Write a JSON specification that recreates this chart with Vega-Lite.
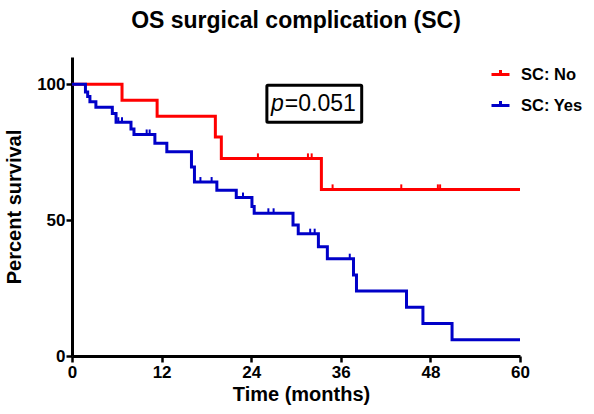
{
  "$schema": "https://vega.github.io/schema/vega-lite/v6.json",
  "width": 448,
  "height": 299,
  "autosize": "none",
  "padding": {"left": 72, "top": 57, "right": 74, "bottom": 58},
  "background": "white",
  "config": {"view": {"stroke": null}, "font": "Liberation Sans"},
  "title": {"text": "OS surgical complication (SC)", "fontSize": 23, "fontWeight": "bold", "font": "Liberation Sans", "color": "black", "anchor": "middle", "offset": 24},
  "datasets": {
    "km": [
      {"group": "SC: No", "t": 0, "s": 100},
      {"group": "SC: No", "t": 6.7, "s": 94.1},
      {"group": "SC: No", "t": 11.4, "s": 88.2},
      {"group": "SC: No", "t": 19.2, "s": 80.6},
      {"group": "SC: No", "t": 20.0, "s": 72.7},
      {"group": "SC: No", "t": 33.4, "s": 61.3},
      {"group": "SC: No", "t": 60, "s": 61.3},
      {"group": "SC: Yes", "t": 0, "s": 100},
      {"group": "SC: Yes", "t": 1.8, "s": 97.1},
      {"group": "SC: Yes", "t": 2.1, "s": 95.5},
      {"group": "SC: Yes", "t": 2.4, "s": 93.5},
      {"group": "SC: Yes", "t": 3.2, "s": 91.5},
      {"group": "SC: Yes", "t": 5.4, "s": 89.2},
      {"group": "SC: Yes", "t": 5.9, "s": 86.0},
      {"group": "SC: Yes", "t": 7.9, "s": 83.5},
      {"group": "SC: Yes", "t": 8.3, "s": 81.5},
      {"group": "SC: Yes", "t": 11.1, "s": 78.3},
      {"group": "SC: Yes", "t": 12.7, "s": 75.1},
      {"group": "SC: Yes", "t": 16.0, "s": 69.5},
      {"group": "SC: Yes", "t": 16.4, "s": 64.0},
      {"group": "SC: Yes", "t": 19.4, "s": 61.0},
      {"group": "SC: Yes", "t": 22.0, "s": 58.3},
      {"group": "SC: Yes", "t": 24.1, "s": 55.0},
      {"group": "SC: Yes", "t": 24.4, "s": 52.5},
      {"group": "SC: Yes", "t": 29.6, "s": 48.2},
      {"group": "SC: Yes", "t": 30.3, "s": 45.0},
      {"group": "SC: Yes", "t": 33.0, "s": 40.2},
      {"group": "SC: Yes", "t": 34.2, "s": 35.8},
      {"group": "SC: Yes", "t": 37.7, "s": 29.8},
      {"group": "SC: Yes", "t": 38.1, "s": 23.9},
      {"group": "SC: Yes", "t": 44.8, "s": 17.9},
      {"group": "SC: Yes", "t": 47.0, "s": 12.0},
      {"group": "SC: Yes", "t": 50.9, "s": 6.0},
      {"group": "SC: Yes", "t": 60, "s": 6.0}
    ],
    "censor": [
      {"group": "SC: No", "t": 24.9, "s": 72.7},
      {"group": "SC: No", "t": 31.6, "s": 72.7},
      {"group": "SC: No", "t": 32.1, "s": 72.7},
      {"group": "SC: No", "t": 34.9, "s": 61.3},
      {"group": "SC: No", "t": 44.1, "s": 61.3},
      {"group": "SC: No", "t": 49.0, "s": 61.3},
      {"group": "SC: No", "t": 49.3, "s": 61.3},
      {"group": "SC: Yes", "t": 6.2, "s": 86.0},
      {"group": "SC: Yes", "t": 6.7, "s": 86.0},
      {"group": "SC: Yes", "t": 10.0, "s": 81.5},
      {"group": "SC: Yes", "t": 10.4, "s": 81.5},
      {"group": "SC: Yes", "t": 17.2, "s": 64.0},
      {"group": "SC: Yes", "t": 18.7, "s": 64.0},
      {"group": "SC: Yes", "t": 22.9, "s": 58.3},
      {"group": "SC: Yes", "t": 26.3, "s": 52.5},
      {"group": "SC: Yes", "t": 27.0, "s": 52.5},
      {"group": "SC: Yes", "t": 31.9, "s": 45.0},
      {"group": "SC: Yes", "t": 32.5, "s": 45.0},
      {"group": "SC: Yes", "t": 37.2, "s": 35.8}
    ],
    "box": [{"x1": 26.1, "x2": 38.8, "y1": 86.0, "y2": 99.6}],
    "ptext": [{"x": 28.5, "y": 92.8, "p": "p", "v": "=0.051"}]
  },
  "layer": [
    {
      "data": {"name": "km"},
      "mark": {"type": "line", "interpolate": "step-after", "strokeWidth": 3, "clip": false},
      "encoding": {
        "x": {"field": "t", "type": "quantitative",
          "scale": {"domain": [0, 60], "nice": false, "zero": false},
          "axis": {"values": [0, 12, 24, 36, 48, 60], "title": "Time (months)", "grid": false, "labelFlush": false,
            "domainColor": "black", "domainWidth": 3, "tickColor": "black", "tickWidth": 2.5, "tickSize": 6,
            "labelFont": "Liberation Sans", "labelFontSize": 17, "labelFontWeight": "bold", "labelColor": "black", "labelPadding": 2,
            "titleFont": "Liberation Sans", "titleFontSize": 20, "titleFontWeight": "bold", "titleColor": "black", "titlePadding": 4, "titleX": 229}},
        "y": {"field": "s", "type": "quantitative",
          "scale": {"domain": [0, 110], "nice": false},
          "axis": {"values": [0, 50, 100], "title": "Percent survival", "grid": false, "labelFlush": false,
            "domainColor": "black", "domainWidth": 3, "tickColor": "black", "tickWidth": 2.5, "tickSize": 6,
            "labelFont": "Liberation Sans", "labelFontSize": 17, "labelFontWeight": "bold", "labelColor": "black", "labelPadding": 1,
            "titleFont": "Liberation Sans", "titleFontSize": 20, "titleFontWeight": "bold", "titleColor": "black", "titlePadding": 12}},
        "color": {"field": "group", "type": "nominal",
          "scale": {"domain": ["SC: No", "SC: Yes"], "range": ["#FF0000", "#0000C8"]},
          "legend": {"title": null, "orient": "none", "legendX": 418, "legendY": 7,
            "symbolType": "M-1,0L1,0M0,0L0,-0.5", "symbolSize": 324, "symbolStrokeWidth": 3,
            "labelFont": "Liberation Sans", "labelFontSize": 16.5, "labelFontWeight": "bold", "labelColor": "black",
            "labelOffset": 10, "rowPadding": 12}}
      }
    },
    {
      "data": {"name": "censor"},
      "mark": {"type": "point", "shape": "M0,-1L0,0", "size": 100, "strokeWidth": 2, "filled": false, "opacity": 1},
      "encoding": {
        "x": {"field": "t", "type": "quantitative"},
        "y": {"field": "s", "type": "quantitative"},
        "color": {"field": "group", "type": "nominal", "legend": null}
      }
    },
    {
      "data": {"name": "box"},
      "mark": {"type": "rect", "fill": "white", "stroke": "black", "strokeWidth": 3, "cornerRadius": 1},
      "encoding": {
        "x": {"field": "x1", "type": "quantitative"},
        "x2": {"field": "x2"},
        "y": {"field": "y1", "type": "quantitative"},
        "y2": {"field": "y2"}
      }
    },
    {
      "data": {"name": "ptext"},
      "mark": {"type": "text", "align": "right", "baseline": "middle", "fontSize": 23, "fontStyle": "italic", "font": "Liberation Sans", "color": "black", "dx": -1},
      "encoding": {
        "x": {"field": "x", "type": "quantitative"},
        "y": {"field": "y", "type": "quantitative"},
        "text": {"field": "p"}
      }
    },
    {
      "data": {"name": "ptext"},
      "mark": {"type": "text", "align": "left", "baseline": "middle", "fontSize": 23, "font": "Liberation Sans", "color": "black"},
      "encoding": {
        "x": {"field": "x", "type": "quantitative"},
        "y": {"field": "y", "type": "quantitative"},
        "text": {"field": "v"}
      }
    }
  ]
}
